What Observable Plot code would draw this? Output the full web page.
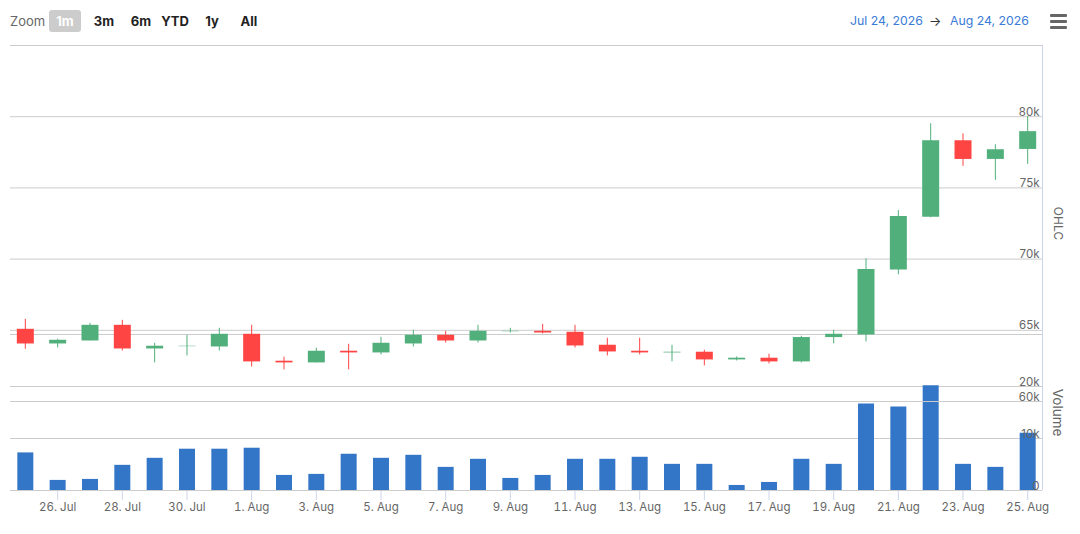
<!DOCTYPE html>
<html>
<head>
<meta charset="utf-8">
<script src="https://cdn.jsdelivr.net/npm/d3@7"></script>
<script src="https://cdn.jsdelivr.net/npm/@observablehq/plot@0.6"></script>
<style>
  body { margin: 0; background: #fff; font-family: Inter, "Noto Sans", sans-serif; }
  #wrap { position: relative; width: 1080px; height: 534px; overflow: hidden; }
  #head { position: relative; height: 44px; font-size: 13px; }
  #head span { position: absolute; top: 11px; line-height: 20px; }
  .zlabel { left: 10px; color: #666; }
  .btn { width: 32px; text-align: center; font-weight: 700; color: #222; }
  .btn.on { background: #ccc; color: #fff; border-radius: 3px; top: 10px !important; height: 22px; line-height: 22px !important; }
  .date { color: #3a7bd5; font-size: 12.3px; }
  .arrow { color: #333; }
  #menu { position: absolute; left: 1050px; top: 14px; width: 17px; }
  #menu i { display: block; height: 3px; background: #666; margin-bottom: 3px; border-radius: 1px; }
  #chart { position: relative; height: 490px; }
  #chart svg { position: absolute; left: 0; top: 0; }
</style>
</head>
<body>
<div id="wrap">
  <div id="head">
    <span class="zlabel">Zoom</span>
    <span class="btn on" style="left:49px">1m</span>
    <span class="btn" style="left:88px">3m</span>
    <span class="btn" style="left:125px">6m</span>
    <span class="btn" style="left:159px">YTD</span>
    <span class="btn" style="left:196px">1y</span>
    <span class="btn" style="left:233px">All</span>
    <span class="date" style="left:850px">Jul 24, 2026</span>
    <span class="arrow" style="left:929px">→</span>
    <span class="date" style="left:950px">Aug 24, 2026</span>
    <div id="menu"><i></i><i></i><i></i></div>
  </div>
  <div id="chart"></div>
</div>
<script>
// jours affichés (1 bougie par jour)
const dates = [
  "2026-07-25", "2026-07-26", "2026-07-27", "2026-07-28", "2026-07-29", "2026-07-30", "2026-07-31",
  "2026-08-01", "2026-08-02", "2026-08-03", "2026-08-04", "2026-08-05", "2026-08-06", "2026-08-07",
  "2026-08-08", "2026-08-09", "2026-08-10", "2026-08-11", "2026-08-12", "2026-08-13", "2026-08-14",
  "2026-08-15", "2026-08-16", "2026-08-17", "2026-08-18", "2026-08-19", "2026-08-20", "2026-08-21",
  "2026-08-22", "2026-08-23", "2026-08-24", "2026-08-25"
];
const open = [
  65070, 64040, 64250, 65350, 63690, 63850, 63830,
  64720, 62830, 62710, 63530, 63410, 64040, 64650,
  64250, 64900, 64930, 64860, 63950, 63530, 63410,
  63460, 62920, 63040, 62780, 64490, 64670, 69230,
  72940, 78310, 77000, 77700
];
const high = [
  65770, 64370, 65490, 65700, 64090, 64650, 65140,
  65350, 63110, 63740, 64020, 64510, 65000, 64930,
  65350, 65140, 65420, 65350, 64440, 64440, 63950,
  63600, 63130, 63320, 64580, 65000, 70020, 73410,
  79500, 78800, 78030, 80000
];
const low = [
  63670, 63760, 64250, 63550, 62710, 63200, 63550,
  62430, 62220, 62710, 62220, 63270, 63830, 64110,
  64110, 64810, 64740, 63760, 63200, 63270, 62780,
  62500, 62850, 62640, 62710, 64040, 64180, 68900,
  72900, 76510, 75530, 76650
];
const close = [
  64040, 64300, 65350, 63690, 63880, 63880, 64720,
  62780, 62710, 63530, 63410, 64090, 64650, 64250,
  64930, 64930, 64810, 63900, 63480, 63410, 63460,
  62920, 63040, 62780, 64490, 64720, 69270, 72990,
  78310, 77000, 77680, 78950
];
const volume = [
  7230, 1940, 2130, 4840, 6190, 7940, 7940,
  8130, 2900, 3100, 6970, 6190, 6770, 4450,
  6000, 2320, 2900, 6000, 6000, 6390, 5030,
  5030, 970, 1550, 6000, 5030, 16650, 16060,
  20130, 5030, 4450, 11030
];
const xTicks = [
  "2026-07-26", "2026-07-28", "2026-07-30", "2026-08-01", "2026-08-03", "2026-08-05", "2026-08-07",
  "2026-08-09", "2026-08-11", "2026-08-13", "2026-08-15", "2026-08-17", "2026-08-19", "2026-08-21",
  "2026-08-23", "2026-08-25"
];
const ohlcGrid = [60000, 65000, 70000, 75000, 80000, 85000];
const ohlcLabels = [60000, 65000, 70000, 75000, 80000];
const volGrid = [10000, 20000, 30000];
const volLabels = [0, 10000, 20000];

const upColor = "#51af7b";
const downColor = "#ff4444";
const volColor = "#3375c6";
const gridColor = "#cccccc";
const axisColor = "#ccd6eb";

const candles = dates.map((d, i) => ({
  Date: new Date(d), Open: open[i], High: high[i], Low: low[i], Close: close[i], Volume: volume[i]
}));
const xDomain = [new Date("2026-07-24T13:00Z"), new Date("2026-08-25T11:00Z")];
const kfmt = v => v === 0 ? "0" : `${v / 1000}k`;
const candleColor = d => d.Close >= d.Open ? upColor : downColor;

const common = {
  width: 1080,
  height: 470,
  marginLeft: 10,
  marginRight: 38,
  style: {background: "transparent", overflow: "visible", fontFamily: "Inter, 'Noto Sans', sans-serif", color: "#666"}
};

// panneau du haut : bougies
const ohlcPlot = Plot.plot({
  ...common,
  marginTop: 1,
  marginBottom: 113,
  x: {type: "utc", domain: xDomain, axis: null},
  y: {domain: [60000, 85000], axis: null},
  marks: [
    Plot.ruleY(ohlcGrid, {stroke: gridColor}),
    Plot.text(ohlcLabels, {
      x: () => xDomain[1], y: d => d, text: kfmt,
      textAnchor: "end", lineAnchor: "bottom", dx: -3, dy: -1, fill: "#666", fontSize: 11.5
    }),
    Plot.ruleX(candles, {x: "Date", y1: "Low", y2: "High", stroke: candleColor, strokeWidth: 1}),
    Plot.ruleX(candles, {x: "Date", y1: "Open", y2: "Close", stroke: candleColor, strokeWidth: 17}),
    Plot.ruleX([xDomain[1]], {stroke: axisColor}),
    Plot.text(["OHLC"], {frameAnchor: "right", textAnchor: "middle", dx: 15, rotate: 90, fill: "#666", fontSize: 12})
  ]
});

// panneau du bas : volume + axe des dates
const volPlot = Plot.plot({
  ...common,
  marginTop: 290,
  marginBottom: 24,
  x: {type: "utc", domain: xDomain},
  y: {domain: [0, 30000], axis: null},
  marks: [
    Plot.ruleY(volGrid, {stroke: gridColor}),
    Plot.ruleX(candles, {x: "Date", y1: 0, y2: "Volume", stroke: volColor, strokeWidth: 16}),
    Plot.text(volLabels, {
      x: () => xDomain[1], y: d => d, text: kfmt,
      textAnchor: "end", lineAnchor: "bottom", dx: -3, dy: -1, fill: "#666", fontSize: 11.5
    }),
    Plot.axisX({
      ticks: xTicks.map(d => new Date(d)),
      tickFormat: d3.utcFormat("%-d. %b"),
      tickSize: 10, tickPadding: 2,
      stroke: axisColor, fill: "#666", fontSize: 11.5, label: null
    }),
    Plot.ruleY([0], {stroke: gridColor}),
    Plot.ruleX([xDomain[1]], {stroke: axisColor}),
    Plot.text(["Volume"], {frameAnchor: "right", textAnchor: "middle", dx: 15, rotate: 90, fill: "#666", fontSize: 13.5})
  ]
});

const chartDiv = document.getElementById("chart");
chartDiv.appendChild(volPlot);
chartDiv.appendChild(ohlcPlot);
</script>
</body>
</html>
